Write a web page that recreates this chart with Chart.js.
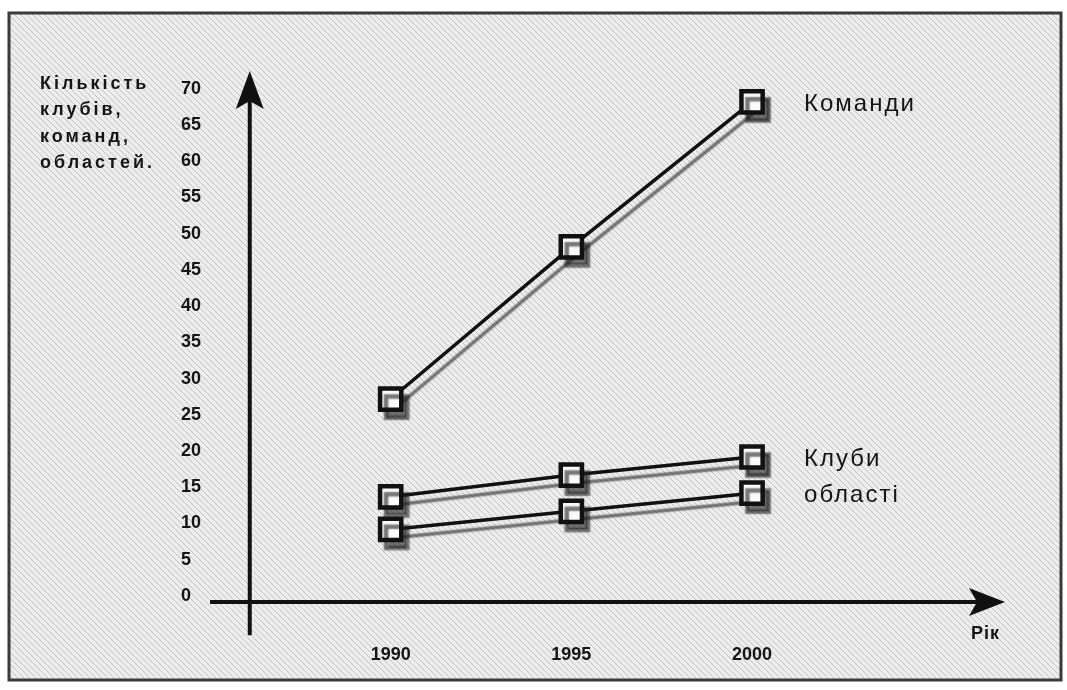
<!DOCTYPE html>
<html><head><meta charset="utf-8">
<script src="https://cdn.jsdelivr.net/npm/chart.js@4/dist/chart.umd.min.js"></script>
<style>html,body{margin:0;padding:0;background:#fff}#wrap{width:1067px;height:690px;position:relative}</style>
</head><body><div id="wrap"><canvas id="c" width="1067" height="690"></canvas></div>
<script>
// ---- data ----
const years = [1990, 1995, 2000];
const yTickValues = [0, 5, 10, 15, 20, 25, 30, 35, 40, 45, 50, 55, 60, 65, 70];
const teams = [28, 49, 69];
const clubs = [14.5, 17.5, 20];
const regions = [10, 12.5, 15];
const seriesNames = ['Команди', 'Клуби', 'області'];
const yTitleLines = ['Кількість', 'клубів,', 'команд,', 'областей.'];
const xTitle = 'Рік';

const toPts = arr => years.map((yr, i) => ({x: yr, y: arr[i]}));

function hatchPattern(ctx) {
  const p = document.createElement('canvas');
  p.width = 6; p.height = 6;
  const g = p.getContext('2d');
  g.fillStyle = '#ededed'; g.fillRect(0, 0, 6, 6);
  g.strokeStyle = 'rgba(0,0,0,0.18)'; g.lineWidth = 1;
  g.beginPath();
  g.moveTo(0, 0); g.lineTo(6, 6);
  g.moveTo(-3, 3); g.lineTo(3, 9);
  g.moveTo(3, -3); g.lineTo(9, 3);
  g.stroke();
  return ctx.createPattern(p, 'repeat');
}

const bgPlugin = {
  id: 'bg',
  beforeDraw(chart) {
    const ctx = chart.ctx;
    ctx.save();
    ctx.fillStyle = '#ffffff';
    ctx.fillRect(0, 0, chart.width, chart.height);
    ctx.fillStyle = hatchPattern(ctx);
    ctx.fillRect(9, 13, 1052, 667);
    ctx.strokeStyle = '#3a3a3a'; ctx.lineWidth = 3;
    ctx.strokeRect(9, 13, 1052, 667);
    ctx.restore();
  }
};

const shadowPlugin = {
  id: 'shadow',
  beforeDatasetDraw(chart) {
    const ctx = chart.ctx;
    ctx.save();
    ctx.shadowColor = 'rgba(30,30,30,0.6)';
    ctx.shadowOffsetX = 6;
    ctx.shadowOffsetY = 8;
    ctx.shadowBlur = 1.5;
  },
  afterDatasetDraw(chart) { chart.ctx.restore(); }
};

const axesPlugin = {
  id: 'axes',
  beforeDatasetsDraw(chart) {
    const ctx = chart.ctx, xs = chart.scales.x, ys = chart.scales.y, a = chart.chartArea;
    const ax = xs.getPixelForValue(1986.1);
    const ay = ys.getPixelForValue(0);
    ctx.save();
    ctx.strokeStyle = '#111'; ctx.fillStyle = '#111'; ctx.lineWidth = 4;
    // y axis
    ctx.beginPath();
    ctx.moveTo(ax, ys.getPixelForValue(-4.6));
    ctx.lineTo(ax, a.top + 20);
    ctx.stroke();
    ctx.beginPath();
    ctx.moveTo(ax, a.top - 2);
    ctx.lineTo(ax - 14, a.top + 36);
    ctx.lineTo(ax, a.top + 28);
    ctx.lineTo(ax + 14, a.top + 36);
    ctx.closePath(); ctx.fill();
    // x axis
    ctx.beginPath();
    ctx.moveTo(a.left, ay);
    ctx.lineTo(a.right - 20, ay);
    ctx.stroke();
    ctx.beginPath();
    ctx.moveTo(a.right, ay);
    ctx.lineTo(a.right - 36, ay - 14);
    ctx.lineTo(a.right - 28, ay);
    ctx.lineTo(a.right - 36, ay + 14);
    ctx.closePath(); ctx.fill();
    ctx.restore();
  }
};

const textPlugin = {
  id: 'texts',
  afterDraw(chart) {
    const ctx = chart.ctx;
    ctx.save();
    ctx.fillStyle = '#151515';
    ctx.textBaseline = 'middle';
    ctx.textAlign = 'left';
    // y title
    ctx.font = 'bold 18px "Liberation Sans", Arial, sans-serif';
    ctx.letterSpacing = '3px';
    yTitleLines.forEach((t, i) => ctx.fillText(t, 40, 84 + i * 26.5));
    // x title
    ctx.font = 'bold 18px "Liberation Sans", Arial, sans-serif';
    ctx.letterSpacing = '1px';
    ctx.fillText(xTitle, 971, 634);
    // series labels
    ctx.font = '24px "Liberation Sans", Arial, sans-serif';
    ctx.letterSpacing = '2px';
    chart.data.datasets.forEach((ds, i) => {
      const meta = chart.getDatasetMeta(i);
      const last = meta.data[meta.data.length - 1];
      ctx.fillText(ds.label, last.x + 52, last.y + 2);
    });
    ctx.restore();
  }
};

const dsStyle = {
  borderColor: '#111',
  borderWidth: 3.5,
  pointStyle: 'rect',
  pointRadius: 15,
  pointHoverRadius: 15,
  pointBackgroundColor: '#fafafa',
  pointBorderColor: '#111',
  pointBorderWidth: 4.5,
  tension: 0,
  fill: false
};

new Chart(document.getElementById('c'), {
  type: 'line',
  data: {
    datasets: [
      Object.assign({label: seriesNames[0], data: toPts(teams)}, dsStyle),
      Object.assign({label: seriesNames[1], data: toPts(clubs)}, dsStyle),
      Object.assign({label: seriesNames[2], data: toPts(regions)}, dsStyle)
    ]
  },
  options: {
    responsive: false,
    animation: false,
    devicePixelRatio: 1,
    layout: {padding: {left: 181, right: 62, top: 73, bottom: 0}},
    plugins: {legend: {display: false}, tooltip: {enabled: false}},
    scales: {
      x: {
        type: 'linear', min: 1985, max: 2007,
        afterBuildTicks: s => { s.ticks = years.map(v => ({value: v})); },
        afterFit: s => { s.height = 70; },
        grid: {display: false}, border: {display: false},
        ticks: {padding: 16, color: '#151515', maxRotation: 0,
                font: {family: '"Liberation Sans", Arial, sans-serif', size: 18, weight: 'bold'},
                callback: v => String(v)}
      },
      y: {
        type: 'linear', min: -2.5, max: 73,
        afterBuildTicks: s => { s.ticks = yTickValues.map(v => ({value: v})); },
        afterFit: s => { s.width = 29; },
        grid: {display: false}, border: {display: false},
        ticks: {crossAlign: 'far', labelOffset: -6, color: '#151515',
                font: {family: '"Liberation Sans", Arial, sans-serif', size: 18, weight: 'bold'}}
      }
    }
  },
  plugins: [bgPlugin, axesPlugin, shadowPlugin, textPlugin]
});
</script>
</body></html>
